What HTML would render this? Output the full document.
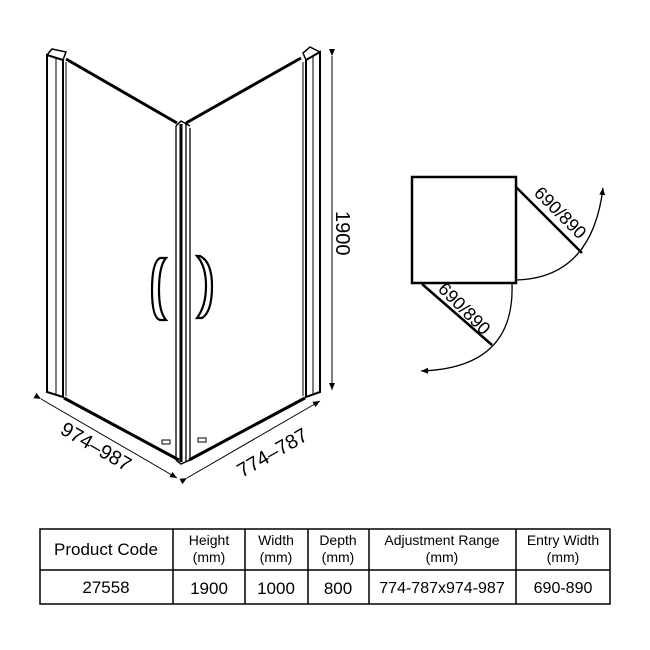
<!DOCTYPE html>
<html><head><style>
body{margin:0;background:#fff;width:650px;height:650px;overflow:hidden;font-family:"Liberation Sans",sans-serif}
svg{position:absolute;left:0;top:0}
</style></head><body>
<svg width="650" height="650" viewBox="0 0 650 650" font-family="Liberation Sans, sans-serif">
<defs>
<marker id="a" markerWidth="8" markerHeight="8" refX="7" refY="4" orient="auto" markerUnits="userSpaceOnUse"><path d="M0,1 L7,4 L0,7 Z" fill="#000"/></marker>
</defs>
<g fill="none" stroke="#000">
<path d="M47,55 L47,392 L63,397 L63,60 Z" stroke-width="2"/>
<path d="M47,55 L52,49 L66,52 L63,60" stroke-width="1.5"/>
<path d="M56,58 L56,394 M66,62 L66,396" stroke-width="1"/>
<path d="M320,52 L320,392 L306,397 L306,60 Z" stroke-width="2"/>
<path d="M306,60 L303,53 L310,47 L320,52" stroke-width="1.5"/>
<path d="M313,56 L313,394 M303,62 L303,396" stroke-width="1"/>
<path d="M66,59 L177,123" stroke-width="3"/>
<path d="M186,123 L301,58" stroke-width="3"/>
<path d="M64,398 L179,460" stroke-width="3"/>
<path d="M189,460 L305,398" stroke-width="3"/>
<path d="M176,126 L176,460 M181,124 L181,462 M186,124 L186,462 M190,128 L190,460" stroke-width="1.3"/>
<path d="M181,124 L181,462" stroke-width="3"/>
<path d="M176,126 L181,121 L190,126 M176,460 L181,464 L190,460" stroke-width="1.5"/>
<path d="M160,258 Q152,262 152,290 Q152,318 160,320 L166,320 Q159,312 159,290 Q159,266 166,258 Z" stroke-width="2.2"/>
<path d="M200,256 Q212,262 212,286 Q212,312 202,318 L197,318 Q206,306 206,286 Q206,266 197,256 Z" stroke-width="2.2"/>
<rect x="162" y="440" width="8" height="4" stroke-width="1"/>
<rect x="198" y="438" width="8" height="4" stroke-width="1"/>
<line x1="332" y1="56" x2="332" y2="390" stroke-width="1" marker-start="url(#a)" marker-end="url(#a)"/>
<line x1="41" y1="399" x2="177" y2="478" stroke-width="1" marker-start="url(#a)" marker-end="url(#a)"/>
<line x1="187" y1="478" x2="320" y2="401" stroke-width="1" marker-start="url(#a)" marker-end="url(#a)"/>
<rect x="412" y="177" width="104" height="106" stroke-width="2.5"/>
<line x1="516" y1="187" x2="582" y2="253" stroke-width="2.5"/>
<line x1="422" y1="284" x2="492" y2="345" stroke-width="2.5"/>
<path d="M516,280 Q592,278 603,188" stroke-width="1.3" marker-end="url(#a)"/>
<path d="M512,284 Q515,368 421,371" stroke-width="1.3" marker-end="url(#a)"/>
</g>
<g font-size="20" fill="#000">
<text transform="translate(336,211) rotate(90)">1900</text>
<text transform="translate(59,433) rotate(30)">974–987</text>
<text transform="translate(242,478) rotate(-30)">774–787</text>
<text font-size="18" transform="translate(533,194) rotate(45)">690/890</text>
<text font-size="18" transform="translate(437,290) rotate(45)">690/890</text>
</g>
<g stroke="#000" stroke-width="1.5" fill="none">
<rect x="40" y="529" width="570" height="75"/>
<line x1="40" y1="570" x2="610" y2="570"/>
<line x1="173" y1="529" x2="173" y2="604"/>
<line x1="245" y1="529" x2="245" y2="604"/>
<line x1="308" y1="529" x2="308" y2="604"/>
<line x1="369" y1="529" x2="369" y2="604"/>
<line x1="516" y1="529" x2="516" y2="604"/>
</g>
<g fill="#000" text-anchor="middle" font-size="14">
<text x="106" y="555" font-size="17">Product Code</text>
<text x="209" y="545">Height</text><text x="209" y="562">(mm)</text>
<text x="276" y="545">Width</text><text x="276" y="562">(mm)</text>
<text x="338" y="545">Depth</text><text x="338" y="562">(mm)</text>
<text x="442" y="545">Adjustment Range</text><text x="442" y="562">(mm)</text>
<text x="563" y="545">Entry Width</text><text x="563" y="562">(mm)</text>
<g font-size="17"><text x="106" y="593">27558</text><text x="209" y="594">1900</text><text x="276" y="594">1000</text><text x="338" y="594">800</text><text x="442" y="593" font-size="16">774-787x974-987</text><text x="563" y="593" font-size="16">690-890</text></g>
</g>
</svg>
</body></html>
